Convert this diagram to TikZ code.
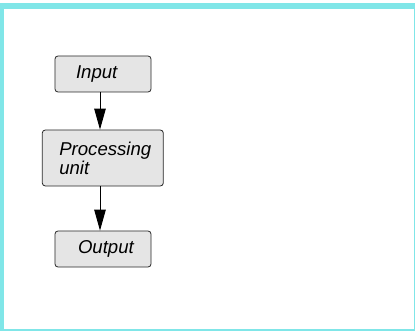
\documentclass[tikz,border=0pt]{standalone}
\usepackage{fontspec}
\setmainfont{Liberation Sans}
\usepackage{tikz}
\usetikzlibrary{positioning, arrows.meta}

\definecolor{framecyan}{RGB}{128,230,232}
\definecolor{boxgray}{RGB}{229,229,229}
\definecolor{edgegray}{RGB}{40,40,40}

\begin{document}
\begin{tikzpicture}[x=1bp, y=1bp,
    unit/.style={rectangle, draw=edgegray, line width=0.8bp, rounded corners=3bp,
                 fill=boxgray, align=left, inner ysep=0pt,
                 font=\fontsize{18.6bp}{19bp}\selectfont\itshape},
    flow/.style={line width=1bp, -{Triangle[length=21bp, width=11.5bp]}}
]
    % Frame
    \useasboundingbox (0,0) rectangle (415,331);
    \fill[framecyan] (0,0) rectangle (415,328);
    \fill[white] (4,2) rectangle (413.7,322);

    % Boxes
    \node[unit, text width=54bp, inner xsep=21bp, minimum height=36bp] (inp) at (103, 257) {Input};
    \node[unit, text width=87bp, inner xsep=17bp, minimum height=56bp] (proc) at (102.8, 173) {Processing\\unit};
    \node[unit, text width=50bp, inner xsep=23bp, minimum height=36bp] (outp) at (103, 82) {Output};

    % Arrows
    \draw[flow] ([xshift=-3bp]inp.south) -- ([xshift=-2.8bp]proc.north);
    \draw[flow] ([xshift=-2.8bp]proc.south) -- ([xshift=-3bp]outp.north);

\end{tikzpicture}
\end{document}
